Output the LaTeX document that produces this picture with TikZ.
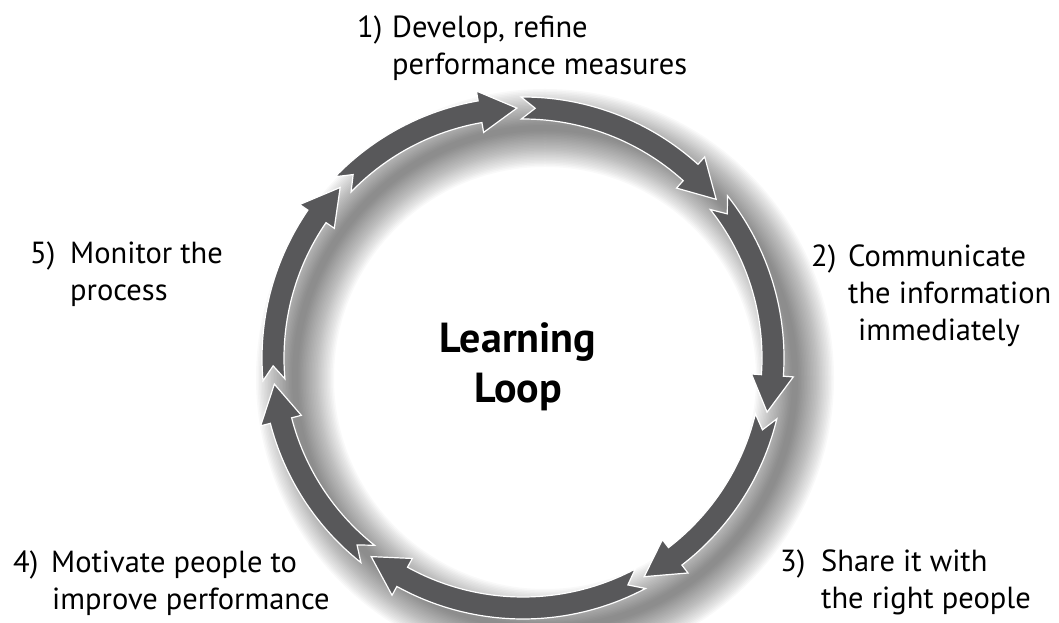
\documentclass[tikz,border=0pt]{standalone}
\usepackage{fontspec}
\setmainfont{PT Sans}
\usetikzlibrary{calc}
\definecolor{ringgray}{RGB}{88,88,90}
\tikzset{
  arrowshape/.style={fill=ringgray, draw=white, line width=1.2pt, line join=miter},
  labeltext/.style={font=\fontsize{30.5}{37}\selectfont, inner sep=0pt, anchor=base west, text=black},
  titletext/.style={font=\bfseries\fontsize{42}{50}\selectfont, inner sep=0pt, anchor=base, text=black},
  shadowring/.style={black, opacity=0.022}
}
% #1 tail angle, #2 tip angle (clockwise arrow on ring of radius 250 round C)
\newcommand{\loopArrow}[2]{%
  \begin{scope}[shift={(C)}]
    \path[arrowshape] (#1:261) arc[start angle=#1, end angle=#2+8.5, radius=261]
      -- (#2+8.5:271) -- (#2:250) -- (#2+8.5:229) -- (#2+8.5:239)
      arc[start angle=#2+8.5, end angle=#1, radius=239]
      -- (#1-3.2:250) -- cycle;
  \end{scope}}
\begin{document}
\begin{tikzpicture}[x=1pt,y=1pt]
\useasboundingbox (0,0) rectangle (1059,623);
\coordinate (C) at (523,265);
\coordinate (S) at (545,245);
% soft drop shadow of the ring
\foreach \w in {78,75,...,6} {
  \draw[shadowring, line width=\w pt] (S) circle[radius=250];
}
% the seven arrows of the loop
\loopArrow{136}{91.4}
\loopArrow{90.4}{39.4}
\loopArrow{38.4}{-12.5}
\loopArrow{-13.5}{-61}
\loopArrow{-62}{-127.4}
\loopArrow{-128.4}{-174}
\loopArrow{-175}{-223}
% centre title
\node[titletext] (title) at (518,270) {\begin{tabular}[t]{@{}c@{}}Learning\\Loop\end{tabular}};
% step labels
\node[labeltext] (l1) at (357,585) {\begin{tabular}[t]{@{}l@{}}\makebox[35pt][l]{1)}Develop, refine\\\hspace*{35pt}performance measures\end{tabular}};
\node[labeltext] (l2) at (811,356) {\begin{tabular}[t]{@{}l@{}}\makebox[37pt][l]{2)}Communicate\\\hspace*{37pt}the information\\\hspace*{47pt}immediately\end{tabular}};
\node[labeltext] (l3) at (780,51) {\begin{tabular}[t]{@{}l@{}}\makebox[41pt][l]{3)}Share it with\\\hspace*{41pt}the right people\end{tabular}};
\node[labeltext] (l4) at (13,50) {\begin{tabular}[t]{@{}l@{}}\makebox[38pt][l]{4)}Motivate people to\\\hspace*{39pt}improve performance\end{tabular}};
\node[labeltext] (l5) at (30,359) {\begin{tabular}[t]{@{}l@{}}\makebox[40pt][l]{5)}Monitor the\\\hspace*{40pt}process\end{tabular}};
\end{tikzpicture}
\end{document}
